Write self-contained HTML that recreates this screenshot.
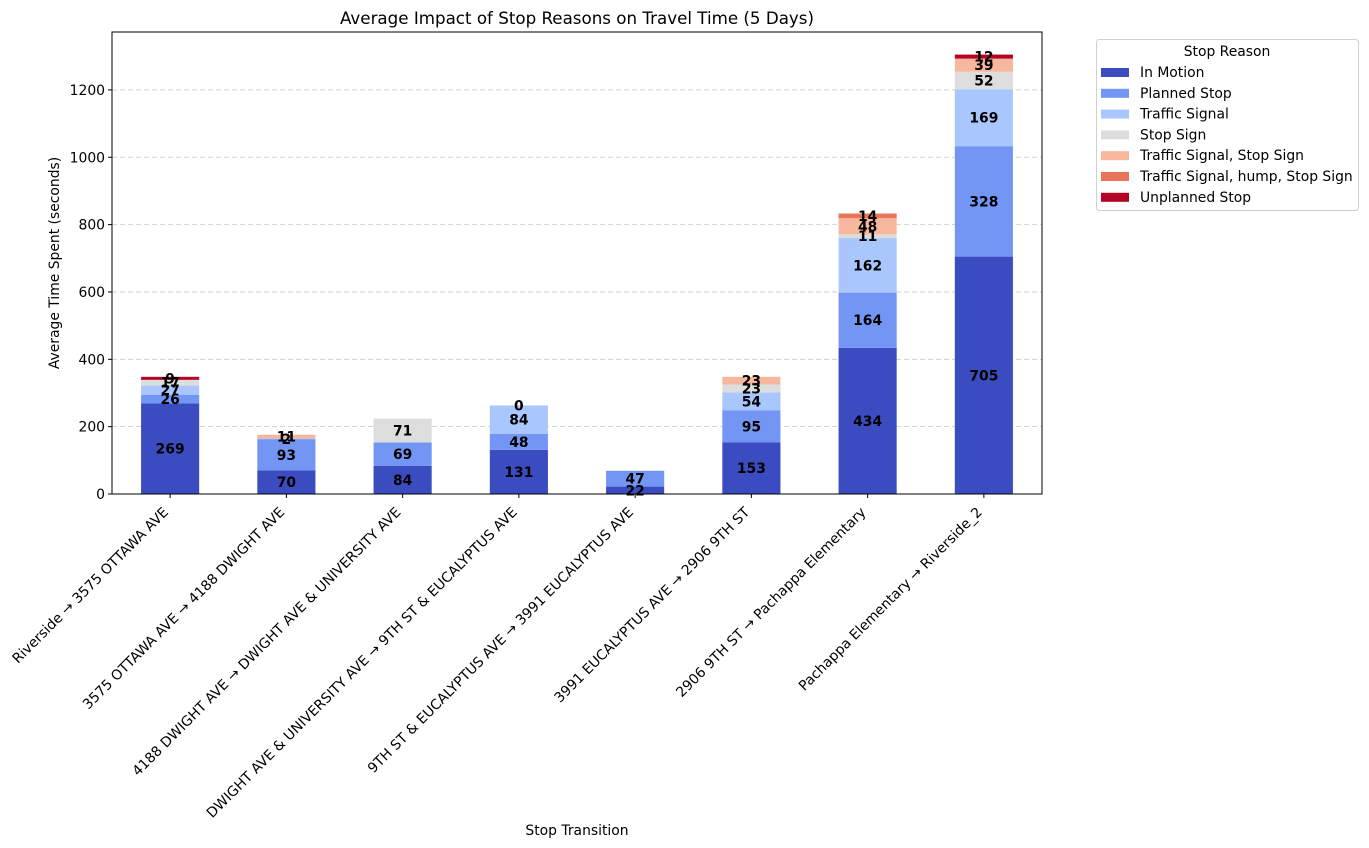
<!DOCTYPE html>
<html><head><meta charset="utf-8"><style>
body{margin:0;background:#fff;}
svg{display:block;font-family:"DejaVu Sans","Liberation Sans",sans-serif;}
</style></head><body>
<svg id="chart" width="1369" height="848" xmlns="http://www.w3.org/2000/svg"></svg>
<script>
const categories=["Riverside → 3575 OTTAWA AVE","3575 OTTAWA AVE → 4188 DWIGHT AVE","4188 DWIGHT AVE → DWIGHT AVE & UNIVERSITY AVE","DWIGHT AVE & UNIVERSITY AVE → 9TH ST & EUCALYPTUS AVE","9TH ST & EUCALYPTUS AVE → 3991 EUCALYPTUS AVE","3991 EUCALYPTUS AVE → 2906 9TH ST","2906 9TH ST → Pachappa Elementary","Pachappa Elementary → Riverside_2"];
const seriesNames=["In Motion","Planned Stop","Traffic Signal","Stop Sign","Traffic Signal, Stop Sign","Traffic Signal, hump, Stop Sign","Unplanned Stop"];
const colors=["#3b4cc0","#7396f5","#aac7fd","#dcdddd","#f6b79c","#e7745b","#b40426"];
const inMotion=[269,70,84,131,22,153,434,705];
const plannedStop=[26,93,69,48,47,95,164,328];
const trafficSignal=[27,2,null,84,null,54,162,169];
const stopSign=[17,null,71,0,null,23,11,52];
const tsStopSign=[null,11,null,null,null,23,48,39];
const tsHumpStopSign=[null,null,null,null,null,null,14,null];
const unplannedStop=[9,null,null,null,null,null,null,12];
const series=[inMotion,plannedStop,trafficSignal,stopSign,tsStopSign,tsHumpStopSign,unplannedStop];
const yTicks=[0,200,400,600,800,1000,1200];

const svg=document.getElementById('chart');
const NS="http://www.w3.org/2000/svg";
const L=112,R=1042,T=32,B=494,yMax=1372;
const FS=13.9;
const y=v=>B-v/yMax*(B-T);
const xStep=(R-L)/categories.length;
const x=i=>L+xStep*(i+0.5);
const bw=xStep*0.5;
function el(tag,attrs,parent){const e=document.createElementNS(NS,tag);for(const k in attrs)e.setAttribute(k,attrs[k]);(parent||svg).appendChild(e);return e;}

yTicks.forEach(t=>{
  const g=el('line',{x1:L,x2:R,y1:y(t),y2:y(t),stroke:'#c8c8c8','stroke-dasharray':'5,3','stroke-width':0.8});
  
  
});
categories.forEach((c,i)=>{
  let base=0;
  series.forEach((s,k)=>{
    const v=s[i];
    if(v===null)return;
    const r=el('rect',{x:x(i)-bw/2,y:y(base+v),width:bw,height:Math.max(0,y(base)-y(base+v)),fill:colors[k]});
    
    
    base+=v;
  });
  base=0;
  series.forEach((s,k)=>{
    const v=s[i];
    if(v===null)return;
    const t=el('text',{x:x(i),y:(y(base)+y(base+v))/2+5,'text-anchor':'middle','font-size':FS,'font-weight':'bold',fill:'#000'});
    t.textContent=v;
    
    
    base+=v;
  });
});
const fr=el('rect',{x:L,y:T,width:R-L,height:B-T,fill:'none',stroke:'#000','stroke-width':1});


yTicks.forEach(t=>{
  el('line',{x1:L-4,x2:L,y1:y(t),y2:y(t),stroke:'#000'});
  const tx=el('text',{x:L-7,y:y(t)+5,'text-anchor':'end','font-size':FS});
  tx.textContent=t;
  
  
});
categories.forEach((c,i)=>{
  el('line',{x1:x(i),x2:x(i),y1:B,y2:B+4,stroke:'#000'});
  const tx=el('text',{transform:`translate(${x(i)-1},${B+19}) rotate(-45)`,'text-anchor':'end','font-size':FS});
  tx.textContent=c;
  
  
});
const title=el('text',{x:(L+R)/2,y:24,'text-anchor':'middle','font-size':16.7});
title.textContent="Average Impact of Stop Reasons on Travel Time (5 Days)";


const xt=el('text',{x:(L+R)/2,y:835,'text-anchor':'middle','font-size':FS});
xt.textContent="Stop Transition";


const yt=el('text',{transform:`translate(59,${(T+B)/2}) rotate(-90)`,'text-anchor':'middle','font-size':FS});
yt.textContent="Average Time Spent (seconds)";


const lg=el('g',{});


el('rect',{x:1096.5,y:39.5,width:262,height:171,rx:3,fill:'#fff',stroke:'#d0d0d0'},lg);
const lt=el('text',{x:1227,y:56,'text-anchor':'middle','font-size':FS},lg);
lt.textContent="Stop Reason";
seriesNames.forEach((n,k)=>{
  const yy=72+k*20.8;
  const sw=el('rect',{x:1101,y:yy-4,width:28,height:9,fill:colors[k]},lg);
  
  
  const t=el('text',{x:1140,y:yy+5,'font-size':FS},lg);
  t.textContent=n;
  
  
});
</script>
</body></html>
